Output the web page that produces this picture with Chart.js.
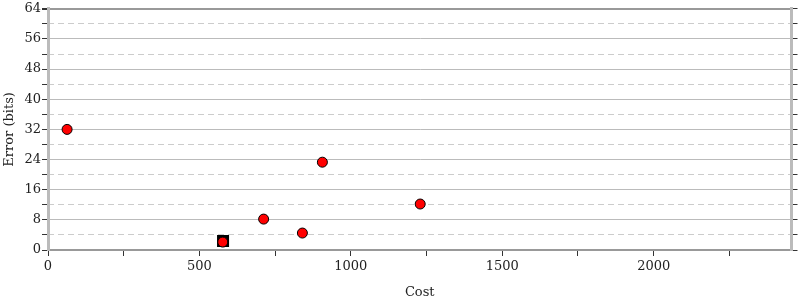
<!DOCTYPE html>
<html>
<head>
<meta charset="utf-8">
<script src="https://cdn.jsdelivr.net/npm/chart.js@4"></script>
<style>
  html, body { margin: 0; padding: 0; background: #fff; }
  #wrap { width: 800px; height: 300px; }
</style>
</head>
<body>
<div id="wrap"><canvas id="chart"></canvas></div>
<script>
// data
const costs = [63, 577, 712, 840, 906, 1229];
const errors = [32, 2.1, 8.2, 4.5, 23.3, 12.2];
const bestCost = [578];
const bestError = [2.4];

// ticks: major ones get a label, minor ones only a mark
const xTicks = [0, 250, 500, 750, 1000, 1250, 1500, 1750, 2000, 2250];
const xLabels = ["0", "", "500", "", "1000", "", "1500", "", "2000", ""];
const yTicks = [0, 4, 8, 12, 16, 20, 24, 28, 32, 36, 40, 44, 48, 52, 56, 60, 64];

const xMax = 2455;
const yMax = 64;

const serif = "'DejaVu Serif', serif";
const tickFont = { family: serif, size: 13 };

const ctx = document.getElementById("chart");

const setTicks = (values) => (scale) => {
    scale.ticks = values.map((v) => ({ value: v }));
};

new Chart(ctx, {
    type: "scatter",
    data: {
        datasets: [
            {
                label: "Points",
                data: costs.map((c, i) => ({ x: c, y: errors[i] })),
                pointStyle: "circle",
                pointRadius: 5,
                pointHoverRadius: 5,
                backgroundColor: "#ff0000",
                borderColor: "#000000",
                borderWidth: 1,
            },
            {
                label: "Best",
                data: bestCost.map((c, i) => ({ x: c, y: bestError[i] })),
                pointStyle: "rect",
                pointRadius: 8.5,
                pointHoverRadius: 8.5,
                backgroundColor: "#000000",
                borderColor: "#000000",
                borderWidth: 0,
            },
        ],
    },
    options: {
        responsive: true,
        maintainAspectRatio: false,
        animation: false,
        layout: { padding: { top: 6, right: 0, left: 0, bottom: 0 } },
        plugins: {
            legend: { display: false },
            tooltip: { enabled: false },
        },
        scales: {
            x: {
                type: "linear",
                min: 0,
                max: xMax,
                afterBuildTicks: setTicks(xTicks),
                ticks: {
                    autoSkip: false,
                    maxRotation: 0,
                    font: tickFont,
                    color: "#222",
                    padding: 3,
                    callback: (v, i) => xLabels[i],
                },
                grid: {
                    drawOnChartArea: false,
                    tickLength: 6,
                    tickColor: "#333",
                },
                border: { color: "#999", width: 2 },
                title: {
                    display: true,
                    text: "Cost",
                    font: tickFont,
                    color: "#222",
                    padding: { top: 4, bottom: 0 },
                },
                afterFit: (scale) => { scale.height = 50; },
            },
            y: {
                type: "linear",
                position: "left",
                min: 0,
                max: yMax,
                afterBuildTicks: setTicks(yTicks),
                ticks: {
                    autoSkip: false,
                    font: tickFont,
                    color: "#222",
                    padding: 1,
                    callback: (v) => (v % 8 === 0 ? String(v) : ""),
                },
                grid: {
                    color: (c) => {
                        const v = c.tick ? c.tick.value : 0;
                        if (v === yMax) return "#999";
                        return v % 8 === 0 ? "#bbbbbb" : "rgba(0,0,0,0)";
                    },
                    lineWidth: (c) => (c.tick && c.tick.value === yMax ? 2 : 1),
                    tickLength: 6,
                    tickColor: "#333",
                },
                border: { color: "#bbb", width: 3 },
                title: {
                    display: true,
                    text: "Error (bits)",
                    font: tickFont,
                    color: "#222",
                    padding: { top: 2, bottom: 4 },
                },
                afterFit: (scale) => { scale.width = 48; },
            },
            yMinor: {
                type: "linear",
                position: "left",
                min: 0,
                max: yMax,
                afterBuildTicks: setTicks(yTicks),
                ticks: { display: false },
                grid: {
                    drawTicks: false,
                    color: (c) => {
                        const v = c.tick ? c.tick.value : 0;
                        return v % 8 === 0 ? "rgba(0,0,0,0)" : "#cccccc";
                    },
                },
                border: { display: false, dash: [6, 4] },
                afterFit: (scale) => { scale.width = 0; },
            },
            yRight: {
                type: "linear",
                position: "right",
                min: 0,
                max: yMax,
                afterBuildTicks: setTicks(yTicks),
                ticks: { display: false },
                grid: {
                    drawOnChartArea: false,
                    tickLength: 6,
                    tickColor: "#333",
                },
                border: { color: "#bbb", width: 3 },
                afterFit: (scale) => { scale.width = 7; },
            },
        },
    },
});
</script>
</body>
</html>
